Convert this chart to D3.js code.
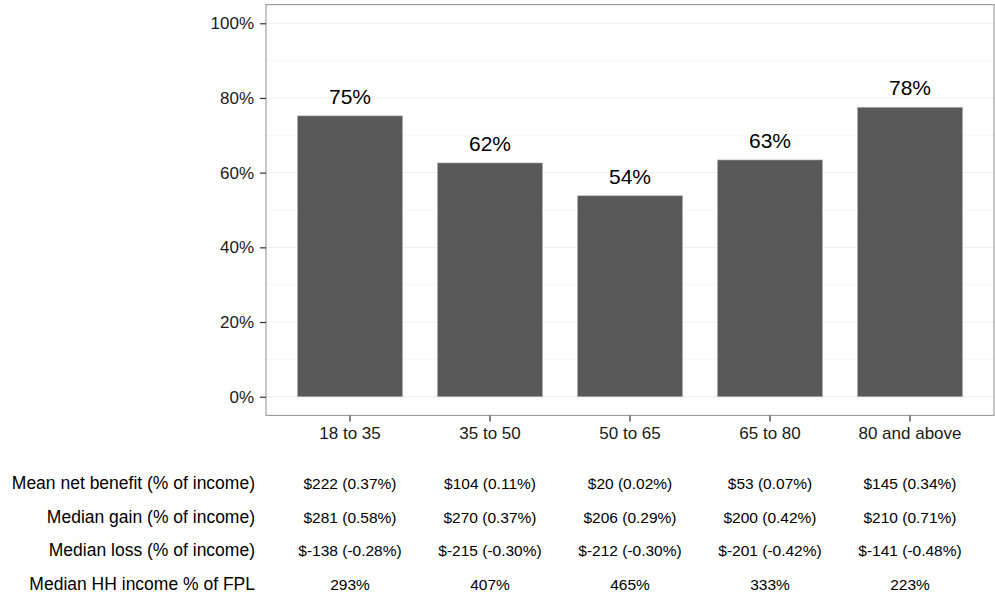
<!DOCTYPE html>
<html><head><meta charset="utf-8">
<script src="https://cdn.jsdelivr.net/npm/d3@7"></script>
<style>body{margin:0;background:#fff;}svg{display:block;font-family:"Liberation Sans",Arial,sans-serif;}</style>
</head><body>
<svg id="c" width="995" height="598"></svg>
<script>
const categories = ["18 to 35","35 to 50","50 to 65","65 to 80","80 and above"];
const shares = [0.752, 0.626, 0.538, 0.634, 0.775];
const barLabels = ["75%","62%","54%","63%","78%"];
const yTicks = [0,0.2,0.4,0.6,0.8,1.0];
const yMinor = [0.1,0.3,0.5,0.7,0.9];
const rowLabels = ["Mean net benefit (% of income)","Median gain (% of income)","Median loss (% of income)","Median HH income % of FPL"];
const meanNet = ["$222 (0.37%)","$104 (0.11%)","$20 (0.02%)","$53 (0.07%)","$145 (0.34%)"];
const medianGain = ["$281 (0.58%)","$270 (0.37%)","$206 (0.29%)","$200 (0.42%)","$210 (0.71%)"];
const medianLoss = ["$-138 (-0.28%)","$-215 (-0.30%)","$-212 (-0.30%)","$-201 (-0.42%)","$-141 (-0.48%)"];
const medianFPL = ["293%","407%","465%","333%","223%"];
const tableRows = [meanNet, medianGain, medianLoss, medianFPL];

const svg = d3.select("#c");
const L = 266, R = 994, T = 4.6, B = 415.4;
const y = d3.scaleLinear().domain([-0.05,1.05]).range([B,T]);
const x = d3.scaleBand().domain(categories).range([L,R]).paddingOuter(0.225).paddingInner(0.25);

// gridlines
svg.append("g").selectAll("line").data(yMinor).join("line")
  .attr("x1",L).attr("x2",R).attr("y1",d=>y(d)).attr("y2",d=>y(d))
  .attr("stroke","#f6f6f6").attr("stroke-width",1);
svg.append("g").selectAll("line").data(yTicks).join("line")
  .attr("x1",L).attr("x2",R).attr("y1",d=>y(d)).attr("y2",d=>y(d))
  .attr("stroke","#ededed").attr("stroke-width",1);

// bars
svg.append("g").selectAll("rect").data(categories).join("rect")
  .attr("x",d=>x(d)).attr("width",x.bandwidth())
  .attr("y",(d,i)=>y(shares[i])).attr("height",(d,i)=>y(0)-y(shares[i]))
  .attr("fill","#595959").attr("stroke","#b0b0b0").attr("stroke-width",0.6);

// bar labels
svg.append("g").selectAll("text").data(categories).join("text")
  .attr("x",d=>x(d)+x.bandwidth()/2).attr("y",(d,i)=>y(shares[i])-12)
  .attr("text-anchor","middle").attr("font-size","21px").attr("fill","#000")
  .text((d,i)=>barLabels[i]);

// panel border
svg.append("rect").attr("x",L).attr("y",T).attr("width",R-L).attr("height",B-T)
  .attr("fill","none").attr("stroke","#a0a0a0").attr("stroke-width",1.2);

// y axis
const ya = svg.append("g").attr("transform",`translate(${L},0)`)
  .call(d3.axisLeft(y).tickValues(yTicks).tickFormat(d3.format(".0%")).tickSize(6).tickPadding(6));
ya.select(".domain").remove();
ya.selectAll(".tick line").attr("stroke","#333").attr("stroke-width",1.2);
ya.selectAll(".tick text").attr("font-size","17px").attr("fill","#1a1a1a").attr("font-family","Liberation Sans, Arial, sans-serif");

// x axis
const xa = svg.append("g").attr("transform",`translate(0,${B})`)
  .call(d3.axisBottom(x).tickSize(6).tickPadding(6));
xa.select(".domain").remove();
xa.selectAll(".tick line").attr("stroke","#333").attr("stroke-width",1.2);
xa.selectAll(".tick text").attr("font-size","17px").attr("fill","#1a1a1a").attr("font-family","Liberation Sans, Arial, sans-serif");

// table
const rowY = [489, 523, 556, 590];
const tg = svg.append("g");
rowLabels.forEach((lab,r)=>{
  tg.append("text").attr("x",255).attr("y",rowY[r]).attr("text-anchor","end")
    .attr("font-size","17.5px").attr("fill","#000").text(lab);
  tg.selectAll(null).data(categories).join("text")
    .attr("x",d=>x(d)+x.bandwidth()/2).attr("y",rowY[r]).attr("text-anchor","middle")
    .attr("font-size","15.5px").attr("fill","#000").text((d,i)=>tableRows[r][i]);
});
</script>
</body></html>
